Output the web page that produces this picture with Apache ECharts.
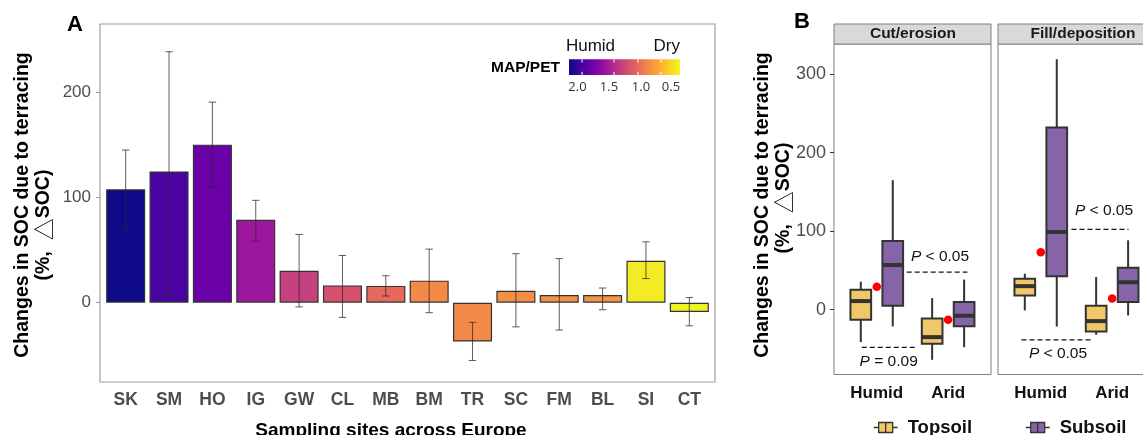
<!DOCTYPE html>
<html>
<head>
    <meta charset="UTF-8">
    <title>SOC change due to terracing</title>
    <script src="https://cdn.jsdelivr.net/npm/echarts@6/dist/echarts.min.js"></script>
    <style>
        html, body { margin: 0; padding: 0; background: #fff; }
        #chart { width: 1143px; height: 435px; }
    </style>
</head>
<body>
<div id="chart"></div>
<script type="text/javascript">
    // ---------- panel A : sampling sites ----------
    var sites = ['SK', 'SM', 'HO', 'IG', 'GW', 'CL', 'MB', 'BM', 'TR', 'SC', 'FM', 'BL', 'SI', 'CT'];
    var socChange = [108, 125, 150.5, 79, 30.5, 16.5, 16, 21, -37, 11.4, 7.3, 7.3, 40, -8.9];
    var errLow = [70, 7, 110, 58.5, -4, -14, 6.4, -9.5, -55, -23, -26, -6.7, 23, -22];
    var errHigh = [145.4, 239, 191, 97.5, 65, 45, 25.7, 51, -18.7, 46.7, 42, 14, 58, 5];
    // colour = MAP/PET (plasma scale)
    var siteColors = ['#0e0a88', '#4a03a0', '#6a00a8', '#9c179e', '#c5427e', '#d5506d', '#e6695c', '#f48a47',
        '#f48a47', '#f58e44', '#f59242', '#f59442', '#f3eb24', '#eef21f'];
    var mapPetTicks = ['2.0', '1.5', '1.0', '0.5'];

    // ---------- panel B : boxplots [min, q1, median, q3, max] ----------
    var climates = ['Humid', 'Arid'];
    var cutTopsoil = [[-41.3, -12.8, 11, 25.5, 35.7], [-63.8, -43.4, -34.9, -11.1, 14.8]];
    var cutSubsoil = [[-21.3, 5.1, 56.9, 87.5, 165], [-47.7, -20.9, -7.7, 9.7, 38.3]];
    var fillTopsoil = [[-0.9, 18.2, 30, 39.5, 45.9], [-31.9, -27.7, -14.5, 5, 41.6]];
    var fillSubsoil = [[-21.3, 42.5, 99, 232, 319], [-7.3, 9.7, 35, 53.6, 88.4]];
    var cutMeans = [29.3, -12.8];
    var fillMeans = [73.1, 14.2];
    // significance: [x from, x to, y of dashes, x of text, y of text, label]
    var cutSig = [[0.42, 1.27, 48, 0.886, 68, '< 0.05'], [-0.21, 0.57, -48, 0.167, -66, '= 0.09']];
    var fillSig = [[0.43, 1.23, 102.4, 0.886, 125.8, '< 0.05'], [-0.27, 0.71, -38.3, 0.241, -56, '< 0.05']];

    var FONT = 'Liberation Sans, Arial, sans-serif';

    function errRender(params, api) {
        var lo = api.coord([api.value(0), api.value(1)]);
        var hi = api.coord([api.value(0), api.value(2)]);
        var st = {stroke: 'rgba(40,40,40,0.75)', lineWidth: 1};
        return {
            type: 'group', children: [
                {type: 'line', shape: {x1: lo[0], y1: lo[1], x2: hi[0], y2: hi[1]}, style: st},
                {type: 'line', shape: {x1: lo[0] - 3.7, y1: lo[1], x2: lo[0] + 3.7, y2: lo[1]}, style: st},
                {type: 'line', shape: {x1: hi[0] - 3.7, y1: hi[1], x2: hi[0] + 3.7, y2: hi[1]}, style: st}
            ]
        };
    }

    function boxRender(offset) {
        return function (params, api) {
            var band = api.size([1, 0])[0];
            var cx = api.coord([api.value(0), 0])[0] + offset * band;
            var half = band * 0.145;
            var y = [1, 2, 3, 4, 5].map(function (k) {
                return api.coord([api.value(0), api.value(k)])[1];
            });
            var fill = api.visual('color');
            return {
                type: 'group', children: [
                    {type: 'line', shape: {x1: cx, y1: y[0], x2: cx, y2: y[4]}, style: {stroke: '#333', lineWidth: 2}},
                    {type: 'rect', shape: {x: cx - half, y: y[3], width: 2 * half, height: y[1] - y[3]},
                        style: {fill: fill, stroke: '#333', lineWidth: 2}},
                    {type: 'line', shape: {x1: cx - half, y1: y[2], x2: cx + half, y2: y[2]}, style: {stroke: '#333', lineWidth: 4}}
                ]
            };
        };
    }

    function sigRender(list) {
        return function (params, api) {
            var d = list[params.dataIndex];
            var a = api.coord([d[0], d[2]]);
            var b = api.coord([d[1], d[2]]);
            var t = api.coord([d[3], d[4]]);
            return {
                type: 'group', children: [
                    {type: 'line', shape: {x1: a[0], y1: a[1], x2: b[0], y2: b[1]},
                        style: {stroke: '#111', lineWidth: 1.2, lineDash: [5, 3]}},
                    {type: 'text', x: t[0], y: t[1], style: {
                        text: '{i|P} ' + d[5], font: '15.5px ' + FONT, fill: '#111',
                        align: 'center', verticalAlign: 'middle', textAlign: 'center', textVerticalAlign: 'middle',
                        rich: {i: {fontStyle: 'italic', fontSize: 15.5, fontFamily: FONT}}
                    }}
                ]
            };
        };
    }

    function withIndex(rows) {
        return rows.map(function (r, i) { return [i].concat(r); });
    }

    function txt(x, y, text, font, extra) {
        var o = {type: 'text', x: x, y: y, z: 50, style: {
            text: text, font: font + ' ' + FONT, fill: '#000',
            align: 'center', verticalAlign: 'middle', textAlign: 'center', textVerticalAlign: 'middle'
        }};
        if (extra) {
            for (var k in extra) { if (k === 'style') { for (var s in extra.style) o.style[s] = extra.style[s]; } else o[k] = extra[k]; }
        }
        return o;
    }

    var plasma = [
        {offset: 0, color: '#0d0887'}, {offset: 0.1, color: '#41049d'}, {offset: 0.2, color: '#6a00a8'},
        {offset: 0.3, color: '#8f0da4'}, {offset: 0.4, color: '#b12a90'}, {offset: 0.5, color: '#cc4778'},
        {offset: 0.6, color: '#e16462'}, {offset: 0.7, color: '#f2844b'}, {offset: 0.8, color: '#fca636'},
        {offset: 0.9, color: '#fcce25'}, {offset: 1, color: '#f0f921'}
    ];
    var cbTickX = [577.5, 609, 641, 671];
    var cbMarkX = [582, 614, 638, 661];
    var deltaRich = {t: {fontFamily: 'Noto Sans CJK SC', fontSize: 22, fontWeight: 'normal'}};

    var graphics = [
        // panel frames and strips
        {type: 'rect', shape: {x: 100, y: 24, width: 615, height: 358}, style: {fill: 'none', stroke: '#a0a0a0', lineWidth: 1.2}},
        {type: 'rect', shape: {x: 834, y: 44, width: 157, height: 330.5}, style: {fill: 'none', stroke: '#808080', lineWidth: 1}},
        {type: 'rect', shape: {x: 998, y: 44, width: 170, height: 330.5}, style: {fill: 'none', stroke: '#808080', lineWidth: 1}},
        {type: 'rect', shape: {x: 834, y: 24, width: 157, height: 20}, style: {fill: '#d9d9d9', stroke: '#808080', lineWidth: 1}},
        {type: 'rect', shape: {x: 998, y: 24, width: 170, height: 20}, style: {fill: '#d9d9d9', stroke: '#808080', lineWidth: 1}},
        txt(913, 34, 'Cut/erosion', 'bold 15.5px', {style: {fill: '#1a1a1a'}}),
        txt(1083, 34, 'Fill/deposition', 'bold 15.5px', {style: {fill: '#1a1a1a'}}),
        // panel tags
        txt(75, 25, 'A', 'bold 22px'),
        txt(802, 22, 'B', 'bold 22px'),
        // axis titles
        txt(23, 205, 'Changes in SOC due to terracing', 'bold 19.5px', {rotation: Math.PI / 2}),
        txt(44, 225, '(%,  {t|\u25b3}SOC)', 'bold 19.5px', {rotation: Math.PI / 2, style: {rich: deltaRich}}),
        txt(763, 205, 'Changes in SOC due to terracing', 'bold 19.5px', {rotation: Math.PI / 2}),
        txt(784, 198, '(%,  {t|\u25b3}SOC)', 'bold 19.5px', {rotation: Math.PI / 2, style: {rich: deltaRich}}),
        txt(391, 431, 'Sampling sites across Europe', 'bold 19px'),
        // MAP/PET colour bar
        {type: 'rect', shape: {x: 569, y: 59.3, width: 111, height: 15.7},
            style: {fill: new echarts.graphic.LinearGradient(0, 0, 1, 0, plasma)}},
        txt(560, 68, 'MAP/PET', 'bold 15.5px', {style: {align: 'right', textAlign: 'right'}}),
        txt(590.5, 46, 'Humid', '17px', {style: {fill: '#111'}}),
        txt(666.7, 46, 'Dry', '17px', {style: {fill: '#111'}})
    ];
    mapPetTicks.forEach(function (t, i) {
        graphics.push(txt(cbTickX[i], 87.5, t, '13px', {style: {fill: '#333', font: '13px Open Sans, sans-serif'}}));
    });
    cbMarkX.forEach(function (x) {
        graphics.push({type: 'line', shape: {x1: x, y1: 59.3, x2: x, y2: 62.5}, style: {stroke: '#fff', lineWidth: 1}});
        graphics.push({type: 'line', shape: {x1: x, y1: 71.8, x2: x, y2: 75}, style: {stroke: '#fff', lineWidth: 1}});
    });

    var catLabel = {fontFamily: FONT, fontWeight: 'bold', color: '#111', fontSize: 17, margin: 10};
    var valLabelB = {fontFamily: FONT, color: '#4d4d4d', fontSize: 18, margin: 8, customValues: [0, 100, 200, 300]};

    var option = {
        animation: false,
        backgroundColor: '#fff',
        graphic: graphics,
        legend: {
            data: ['Topsoil', 'Subsoil'],
            left: 868, top: 413,
            itemWidth: 24, itemHeight: 10, itemGap: 53,
            icon: 'path://M0,5H5M5,0H12V10H5ZM12,0H19V10H12ZM19,5H24',
            itemStyle: {borderColor: '#333', borderWidth: 1.3},
            textStyle: {fontFamily: FONT, fontWeight: 'bold', fontSize: 18.5, color: '#111', padding: [0, 0, 0, 5]}
        },
        grid: [
            {left: 104, top: 24, width: 607, height: 358, outerBoundsMode: 'none'},
            {left: 841.1, top: 44, width: 142.7, height: 330.5, outerBoundsMode: 'none'},
            {left: 1005.1, top: 44, width: 142.7, height: 330.5, outerBoundsMode: 'none'}
        ],
        xAxis: [
            {type: 'category', gridIndex: 0, data: sites,
                axisLine: {show: false, onZero: false}, axisTick: {alignWithLabel: true, length: 4, lineStyle: {color: '#999'}},
                axisLabel: {fontFamily: FONT, fontWeight: 'bold', color: '#4d4d4d', fontSize: 17.5, margin: 9, interval: 0}},
            {type: 'category', gridIndex: 1, data: climates,
                axisLine: {show: false, onZero: false}, axisTick: {alignWithLabel: true, length: 4, lineStyle: {color: '#333'}},
                axisLabel: catLabel},
            {type: 'value', gridIndex: 1, min: -0.5, max: 1.5, show: false, axisLine: {onZero: false}},
            {type: 'category', gridIndex: 2, data: climates,
                axisLine: {show: false, onZero: false}, axisTick: {alignWithLabel: true, length: 4, lineStyle: {color: '#333'}},
                axisLabel: catLabel},
            {type: 'value', gridIndex: 2, min: -0.5, max: 1.5, show: false, axisLine: {onZero: false}}
        ],
        yAxis: [
            {type: 'value', gridIndex: 0, min: -75.5, max: 265.4, offset: 4,
                axisLine: {show: false, onZero: false}, splitLine: {show: false},
                axisTick: {show: true, length: 4, lineStyle: {color: '#999'}, customValues: [0, 100, 200]},
                axisLabel: {fontFamily: FONT, color: '#4d4d4d', fontSize: 17, margin: 9, customValues: [0, 100, 200]}},
            {type: 'value', gridIndex: 1, min: -82.5, max: 338.4, offset: 7.1,
                axisLine: {show: false, onZero: false}, splitLine: {show: false},
                axisTick: {show: true, length: 4, lineStyle: {color: '#333'}, customValues: [0, 100, 200, 300]},
                axisLabel: valLabelB},
            {type: 'value', gridIndex: 2, min: -82.5, max: 338.4,
                axisLine: {show: false, onZero: false}, splitLine: {show: false}, axisTick: {show: false}, axisLabel: {show: false}}
        ],
        series: [
            {
                name: 'socChange', type: 'bar', xAxisIndex: 0, yAxisIndex: 0, barWidth: '90%',
                itemStyle: {borderColor: '#333', borderWidth: 1.2},
                data: socChange.map(function (v, i) {
                    return {value: v, itemStyle: {color: siteColors[i]}};
                })
            },
            {
                name: 'err', type: 'custom', xAxisIndex: 0, yAxisIndex: 0, z: 5,
                renderItem: errRender, encode: {x: 0, y: [1, 2]},
                data: sites.map(function (s, i) { return [i, errLow[i], errHigh[i]]; })
            },
            {name: 'Topsoil', type: 'custom', xAxisIndex: 1, yAxisIndex: 1, renderItem: boxRender(-0.224),
                itemStyle: {color: '#f1c869', borderColor: '#333'}, encode: {x: 0, y: [1, 2, 3, 4, 5]}, data: withIndex(cutTopsoil)},
            {name: 'Subsoil', type: 'custom', xAxisIndex: 1, yAxisIndex: 1, renderItem: boxRender(0.224),
                itemStyle: {color: '#8565a8', borderColor: '#333'}, encode: {x: 0, y: [1, 2, 3, 4, 5]}, data: withIndex(cutSubsoil)},
            {name: 'Topsoil', type: 'custom', xAxisIndex: 3, yAxisIndex: 2, renderItem: boxRender(-0.224),
                itemStyle: {color: '#f1c869', borderColor: '#333'}, encode: {x: 0, y: [1, 2, 3, 4, 5]}, data: withIndex(fillTopsoil)},
            {name: 'Subsoil', type: 'custom', xAxisIndex: 3, yAxisIndex: 2, renderItem: boxRender(0.224),
                itemStyle: {color: '#8565a8', borderColor: '#333'}, encode: {x: 0, y: [1, 2, 3, 4, 5]}, data: withIndex(fillSubsoil)},
            {name: 'mean', type: 'scatter', xAxisIndex: 1, yAxisIndex: 1, symbolSize: 8.5, z: 6,
                itemStyle: {color: '#ff0000', opacity: 1},
                data: cutMeans.map(function (v, i) { return [i, v]; })},
            {name: 'mean', type: 'scatter', xAxisIndex: 3, yAxisIndex: 2, symbolSize: 8.5, z: 6,
                itemStyle: {color: '#ff0000', opacity: 1},
                data: fillMeans.map(function (v, i) { return [i, v]; })},
            {name: 'sig', type: 'custom', xAxisIndex: 2, yAxisIndex: 1, renderItem: sigRender(cutSig),
                encode: {x: 0, y: 2}, data: cutSig.map(function (d) { return [d[0], d[2]]; })},
            {name: 'sig', type: 'custom', xAxisIndex: 4, yAxisIndex: 2, renderItem: sigRender(fillSig),
                encode: {x: 0, y: 2}, data: fillSig.map(function (d) { return [d[0], d[2]]; })}
        ]
    };

    var myChart = echarts.init(document.getElementById('chart'));
    myChart.setOption(option);
</script>
</body>
</html>
